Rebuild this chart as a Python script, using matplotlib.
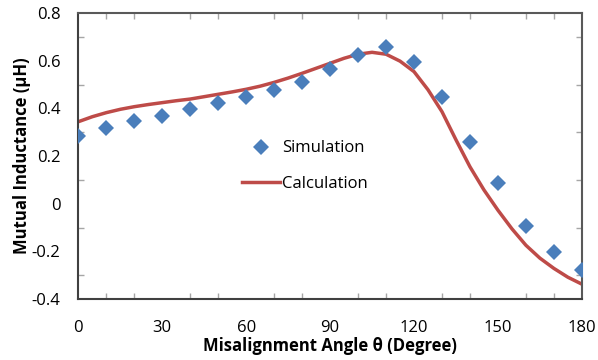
import matplotlib.pyplot as plt
from matplotlib.ticker import MultipleLocator

plt.rcParams['font.family'] = ['Open Sans', 'DejaVu Sans']

# simulation points (every 10 degrees)
sim_angle = [0, 10, 20, 30, 40, 50, 60, 70, 80, 90,
             100, 110, 120, 130, 140, 150, 160, 170, 180]
sim_m = [0.284, 0.318, 0.345, 0.368, 0.397, 0.424, 0.448, 0.478, 0.511, 0.563,
         0.624, 0.656, 0.593, 0.446, 0.260, 0.088, -0.093, -0.204, -0.277]

# calculated curve (every 5 degrees)
calc_angle = list(range(0, 181, 5))
calc_m = [0.344, 0.365, 0.382, 0.396, 0.407, 0.416, 0.424, 0.432, 0.439, 0.449,
          0.459, 0.469, 0.480, 0.493, 0.509, 0.527, 0.547, 0.568, 0.589, 0.610,
          0.627, 0.635, 0.627, 0.598, 0.554, 0.478, 0.386, 0.268, 0.155, 0.058,
          -0.027, -0.105, -0.174, -0.228, -0.271, -0.308, -0.337]

x_ticks = [0, 30, 60, 90, 120, 150, 180]
y_ticks = [-0.4, -0.2, 0, 0.2, 0.4, 0.6, 0.8]
y_labels = ['-0.4', '-0.2', '0', '0.2', '0.4', '0.6', '0.8']

fig = plt.figure(figsize=(5.98, 3.6), dpi=100)
ax = fig.add_axes([0.131, 0.169, 0.842, 0.795])

ax.plot(sim_angle, sim_m, 'D', color='#4a7ebb', markersize=8.5,
        markeredgewidth=0, label='Simulation', zorder=3)
ax.plot(calc_angle, calc_m, '-', color='#be4b48', linewidth=2.5,
        label='Calculation', zorder=2)

ax.set_xlim(0, 180)
ax.set_ylim(-0.4, 0.8)
ax.set_xticks(x_ticks)
ax.set_yticks(y_ticks)
ax.set_yticklabels(y_labels)
ax.xaxis.set_minor_locator(MultipleLocator(10))
ax.yaxis.set_minor_locator(MultipleLocator(0.1))

ax.tick_params(which='both', direction='in', top=True, right=True,
               color='#a6a6a6', width=1)
ax.tick_params(which='major', length=0, labelsize=12)
ax.tick_params(which='minor', length=4)
ax.tick_params(axis='x', which='major', pad=15)
ax.tick_params(axis='y', which='major', pad=13)

for s in ax.spines.values():
    s.set_color('#404040')
    s.set_linewidth(1.5)
for s in ['top', 'right']:
    ax.spines[s].set_color('#595959')

ax.set_xlabel('Misalignment Angle θ (Degree)', fontsize=12, fontweight='bold',
              labelpad=1)
ax.set_ylabel('Mutual Inductance (µH)', fontsize=12, fontweight='bold',
              labelpad=0)

ax.legend(loc='center', bbox_to_anchor=(0.45, 0.465), frameon=False,
          fontsize=12, handlelength=2.3, handletextpad=0.15, labelspacing=1.15)

plt.savefig('out.png', dpi=100)
